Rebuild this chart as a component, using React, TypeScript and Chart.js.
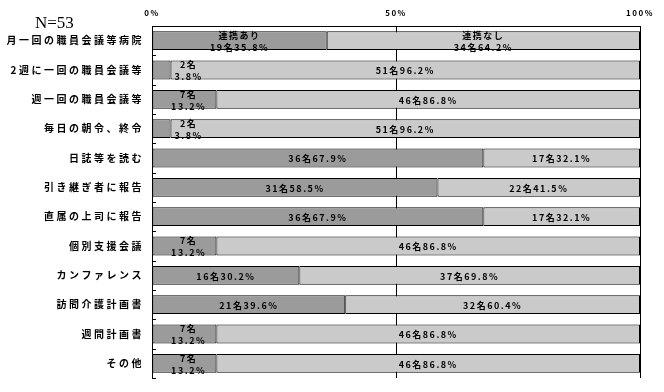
import React, { useEffect, useRef } from 'react';
import { Chart, registerables } from 'chart.js';

Chart.register(...registerables);

const categories = [
  '月一回の職員会議等病院',
  '2週に一回の職員会議等',
  '週一回の職員会議等',
  '毎日の朝令、終令',
  '日誌等を読む',
  '引き継ぎ者に報告',
  '直属の上司に報告',
  '個別支援会議',
  'カンファレンス',
  '訪問介護計画書',
  '週間計画書',
  'その他',
];
const seriesNames = ['連携あり', '連携なし'];
const withCounts = [19, 2, 7, 2, 36, 31, 36, 7, 16, 21, 7, 7];
const withPct = [35.8, 3.8, 13.2, 3.8, 67.9, 58.5, 67.9, 13.2, 30.2, 39.6, 13.2, 13.2];
const withoutCounts = [34, 51, 46, 51, 17, 22, 17, 46, 37, 32, 46, 46];
const withoutPct = [64.2, 96.2, 86.8, 96.2, 32.1, 41.5, 32.1, 86.8, 69.8, 60.4, 86.8, 86.8];
const xTickValues = [0, 50, 100];
const sampleNote = 'N=53';

const DARK = '#9b9b9b';
const LIGHT = '#cacaca';
const JP = "'Noto Sans CJK JP', 'Noto Sans', sans-serif";

const patchSpacing = (scale: any, spacing: string) => {
  if (!scale || scale.__lsPatched) return;
  const orig = scale.drawLabels.bind(scale);
  scale.drawLabels = (area: any) => {
    const c = scale.ctx as any;
    const prev = c.letterSpacing;
    c.letterSpacing = spacing;
    orig(area);
    c.letterSpacing = prev || '0px';
  };
  scale.__lsPatched = true;
};

const decorPlugin = {
  id: 'decor',
  beforeDraw(chart: any) {
    patchSpacing(chart.scales.y, '2.5px');
    patchSpacing(chart.scales.x, '1.5px');
  },
  afterDatasetsDraw(chart: any) {
    const ctx = chart.ctx as any;
    const xs = chart.scales.x;
    const ys = chart.scales.y;
    const area = chart.chartArea;
    ctx.save();
    // inner tick marks on the category axis
    ctx.strokeStyle = '#000';
    ctx.lineWidth = 1;
    const n = categories.length;
    for (let i = 0; i < n; i++) {
      const yb = i < n - 1 ? (ys.getPixelForTick(i) + ys.getPixelForTick(i + 1)) / 2 : area.bottom;
      const yy = Math.round(yb) + 0.5;
      ctx.beginPath();
      ctx.moveTo(area.left, yy);
      ctx.lineTo(area.left + 4, yy);
      ctx.stroke();
    }
    // data labels
    ctx.fillStyle = '#000';
    ctx.textAlign = 'center';
    ctx.textBaseline = 'middle';
    ctx.font = `bold 9px ${JP}`;
    ctx.letterSpacing = '1.5px';
    chart.data.datasets.forEach((_ds: any, di: number) => {
      const meta = chart.getDatasetMeta(di);
      const counts = di === 0 ? withCounts : withoutCounts;
      const pcts = di === 0 ? withPct : withoutPct;
      meta.data.forEach((bar: any, i: number) => {
        const p = bar.getProps(['x', 'base', 'y'], true);
        let cx = (p.x + p.base) / 2;
        const c = `${counts[i]}名`;
        const pc = `${pcts[i].toFixed(1)}%`;
        if (i === 0) {
          ctx.fillText(seriesNames[di], cx, p.y - 5);
          ctx.fillText(c + pc, cx, p.y + 7);
        } else if (pcts[i] < 20) {
          cx = Math.max(cx, xs.getPixelForValue(7.5));
          ctx.fillText(c, cx, p.y - 5);
          ctx.fillText(pc, cx, p.y + 7);
        } else {
          ctx.fillText(c + pc, cx, p.y + 1);
        }
      });
    });
    ctx.restore();
  },
  afterDraw(chart: any) {
    const ctx = chart.ctx as any;
    ctx.save();
    ctx.letterSpacing = '0px';
    ctx.fillStyle = '#000';
    ctx.textAlign = 'left';
    ctx.textBaseline = 'alphabetic';
    ctx.font = "17px 'Liberation Serif', 'DejaVu Serif', serif";
    ctx.fillText(sampleNote, 35, 28);
    ctx.restore();
  },
};

export default function App() {
  const ref = useRef<HTMLCanvasElement | null>(null);
  useEffect(() => {
    if (!ref.current) return;
    document.body.style.margin = '0';
    const chart = new Chart(ref.current, {
      type: 'bar',
      data: {
        labels: categories,
        datasets: [
          {
            label: seriesNames[0],
            data: withPct,
            backgroundColor: DARK,
            borderColor: '#000',
            borderWidth: 1,
            borderSkipped: false,
            barPercentage: 0.64,
            categoryPercentage: 1,
          },
          {
            label: seriesNames[1],
            data: withoutPct,
            backgroundColor: LIGHT,
            borderColor: '#000',
            borderWidth: 1,
            borderSkipped: false,
            barPercentage: 0.64,
            categoryPercentage: 1,
          },
        ],
      },
      options: {
        indexAxis: 'y',
        animation: false,
        responsive: false,
        layout: { padding: { left: 0, right: 24, top: 0, bottom: 9 } },
        plugins: {
          legend: { display: false },
          tooltip: { enabled: false },
        },
        scales: {
          x: {
            position: 'top',
            stacked: true,
            min: 0,
            max: 100,
            afterFit: (s: any) => { s.height = 26; },
            afterBuildTicks: (s: any) => { s.ticks = xTickValues.map((v) => ({ value: v })); },
            ticks: {
              padding: 8,
              color: '#000',
              font: { family: JP, size: 8, weight: 'bold' },
              callback: (v: any) => `${v}%`,
              maxRotation: 0,
            },
            grid: { color: '#000', lineWidth: 1, drawTicks: false },
            border: { display: true, color: '#000', width: 1 },
          },
          y: {
            stacked: true,
            afterFit: (s: any) => { s.width = 152; },
            ticks: {
              padding: 8,
              color: '#000',
              font: { family: JP, size: 10, weight: 'bold' },
              autoSkip: false,
            },
            grid: { display: false, drawTicks: false },
            border: { display: true, color: '#000', width: 1 },
          },
        },
      },
      plugins: [decorPlugin],
    });
    return () => chart.destroy();
  }, []);
  return (
    <div style={{ position: 'fixed', left: 0, top: 0, width: 664, height: 392, background: '#fff' }}>
      <canvas ref={ref} width={664} height={392} />
    </div>
  );
}
